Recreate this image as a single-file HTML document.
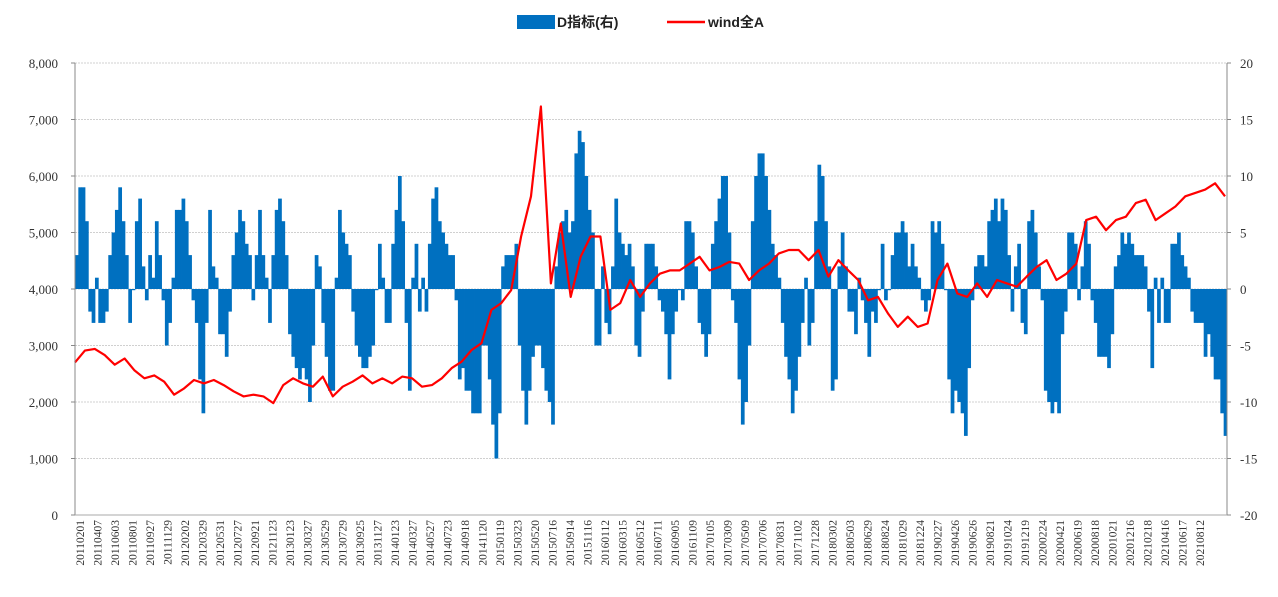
<!DOCTYPE html>
<html><head><meta charset="utf-8"><style>
body{margin:0;background:#fff;}
svg{display:block;}
</style></head><body>
<svg id="chart" width="1278" height="597" xmlns="http://www.w3.org/2000/svg">
<g>
<rect x="517" y="15" width="38" height="14" fill="#0070c0"/>
<text x="557" y="27" font-family="Liberation Sans, Noto Sans CJK SC, sans-serif" font-size="14" font-weight="bold" fill="#222">D指标(右)</text>
<line x1="667" y1="22" x2="705" y2="22" stroke="#ff0000" stroke-width="2.5"/>
<text x="708" y="27" font-family="Liberation Sans, Noto Sans CJK SC, sans-serif" font-size="14" font-weight="bold" fill="#222">wind全A</text>
</g>
<g id="grid"></g><g id="bars"></g><g id="line"></g><g id="axes"></g>
</svg>
<script>
const leftTicks=[0,1000,2000,3000,4000,5000,6000,7000,8000];
const leftTickLabels=["0","1,000","2,000","3,000","4,000","5,000","6,000","7,000","8,000"];
const rightTickLabels=["-20","-15","-10","-5","0","5","10","15","20"];
const dates=["20110201","20110407","20110603","20110801","20110927","20111129","20120202","20120329","20120531","20120727","20120921","20121123","20130123","20130327","20130529","20130729","20130925","20131127","20140123","20140327","20140527","20140723","20140918","20141120","20150119","20150323","20150520","20150716","20150914","20151116","20160112","20160315","20160512","20160711","20160905","20161109","20170105","20170309","20170509","20170706","20170831","20171102","20171228","20180302","20180503","20180629","20180824","20181029","20181224","20190227","20190426","20190626","20190821","20191024","20191219","20200224","20200421","20200619","20200818","20201021","20201216","20210218","20210416","20210617","20210812"];
const dValues=[3,9,9,6,-2,-3,1,-3,-3,-2,3,5,7,9,6,3,-3,0,6,8,2,-1,3,1,6,3,-1,-5,-3,1,7,7,8,6,3,-1,-3,-8,-11,-3,7,2,1,-4,-4,-6,-2,3,5,7,6,4,3,-1,3,7,3,1,-3,3,7,8,6,3,-4,-6,-7,-8,-7,-8,-10,-5,3,2,-3,-6,-9,-9,1,7,5,4,3,-2,-5,-6,-7,-7,-6,-5,0,4,1,-3,-3,4,7,10,6,-3,-9,1,4,-2,1,-2,4,8,9,6,5,4,3,3,-1,
-8,-7,-9,-9,-11,-11,-11,-5,-5,-8,-12,-15,-11,2,3,3,3,4,-5,-9,-12,-9,-6,-5,-5,-7,-9,-10,-12,2,5,6,7,5,6,12,14,13,10,7,5,-5,-5,2,-3,-4,2,8,5,4,3,4,2,-5,-6,-2,4,4,4,2,-1,-2,-4,-8,-4,-2,0,-1,6,6,5,2,-3,-4,-6,-4,4,6,8,10,10,5,-1,-3,-8,-12,-10,-5,6,10,12,12,10,7,4,3,1,-3,-6,-8,-11,-9,-6,-3,1,-5,-3,6,11,10,6,2,-9,-8,
2,5,2,-2,-2,-4,1,-1,-3,-6,-2,-3,0,4,-1,0,3,5,5,6,5,2,4,2,1,-1,-2,-1,6,5,6,4,0,-8,-11,-9,-10,-11,-13,-7,-1,2,3,3,2,6,7,8,6,8,7,3,-2,2,4,-3,-4,6,7,5,2,-1,-9,-10,-11,-10,-11,-4,-2,5,5,4,-1,2,6,4,-1,-3,-6,-6,-6,-7,-4,2,3,5,4,5,4,3,3,3,2,-2,-7,1,-3,1,-3,-3,4,4,5,3,2,1,-2,-3,-3,-3,-6,-4,-6,-8,-8,-11,-13];
const windValues=[2700,2910,2940,2830,2660,2770,2560,2420,2470,2360,2130,2240,2390,2330,2390,2300,2190,2100,2130,2100,1980,2300,2420,2330,2270,2450,2100,2270,2360,2470,2330,2420,2330,2450,2420,2270,2300,2420,2600,
2714,2920,3040,3630,3750,3980,4930,5640,7230,4100,5160,3860,4570,4930,4930,3630,3750,4160,3860,4100,4270,4330,4330,4450,4570,4330,4390,4480,4450,4160,4330,4450,4630,4690,4690,4510,4690,4220,
4510,4330,4160,3800,3860,3570,3330,3510,3330,3390,4160,4450,3920,3860,4100,3860,4160,4100,4040,4220,4390,4510,4160,4270,4450,5220,5280,5040,5220,5280,5520,5580,5220,5340,5460,5640,5700,5760,5870,5640];

const NS="http://www.w3.org/2000/svg";
const X0=75,X1=1227,Y0=515,Y1=63;
const yL=v=>Y0-(v/8000)*(Y0-Y1);
const yR=v=>Y0-((v+20)/40)*(Y0-Y1);
const bw=(X1-X0)/dValues.length;
const xBar=i=>X0+i*bw;
const xLine=i=>X0+i*(X1-X0-2)/(windValues.length-1);
function mk(t,a,p){const e=document.createElementNS(NS,t);for(const k in a)e.setAttribute(k,a[k]);p.appendChild(e);return e;}
const grid=document.getElementById('grid'),bars=document.getElementById('bars'),line=document.getElementById('line'),axes=document.getElementById('axes');
leftTicks.forEach((v,i)=>{
  if(v>0){const g=mk('line',{x1:X0,x2:X1,y1:yL(v),y2:yL(v),stroke:'#d0d0d0','stroke-dasharray':'2,1'},grid);
  
  }
  const t=mk('text',{x:58,y:yL(v)+5,'text-anchor':'end','font-family':'Liberation Serif, serif','font-size':'13',fill:'#333'},axes);
  t.textContent=leftTickLabels[i];
  
  
  const r=mk('text',{x:1240,y:yL(v)+5,'font-family':'Liberation Serif, serif','font-size':'13',fill:'#333'},axes);
  r.textContent=rightTickLabels[i];
  
  
  mk('line',{x1:X0-4,x2:X0,y1:yL(v),y2:yL(v),stroke:'#888'},axes);
  mk('line',{x1:X1,x2:X1+4,y1:yL(v),y2:yL(v),stroke:'#888'},axes);
});
dValues.forEach((v,i)=>{
  const y0=yR(0),y=yR(v);
  const b=mk('rect',{x:xBar(i),y:Math.min(y0,y),width:bw+0.4,height:Math.max(Math.abs(y-y0),1.2),fill:'#0070c0'},bars);
  
  
});
const pts=windValues.map((v,i)=>xLine(i).toFixed(1)+','+yL(v).toFixed(1)).join(' ');
const pl=mk('polyline',{points:pts,fill:'none',stroke:'#ff0000','stroke-width':'2.2','stroke-linejoin':'round'},line);


const la=mk('line',{x1:X0,x2:X0,y1:Y1,y2:Y0,stroke:'#888'},axes);


const ra=mk('line',{x1:X1,x2:X1,y1:Y1,y2:Y0,stroke:'#888'},axes);


const ba=mk('line',{x1:X0,x2:X1,y1:Y0,y2:Y0,stroke:'#aaa'},axes);


dates.forEach((d,j)=>{
  const x=80+j*17.5;
  const t=mk('text',{x:0,y:0,transform:`translate(${x+4},520) rotate(-90)`,'text-anchor':'end','font-family':'Liberation Serif, serif','font-size':'11.5',fill:'#333'},axes);
  t.textContent=d;
  
  
});
</script>
</body></html>
